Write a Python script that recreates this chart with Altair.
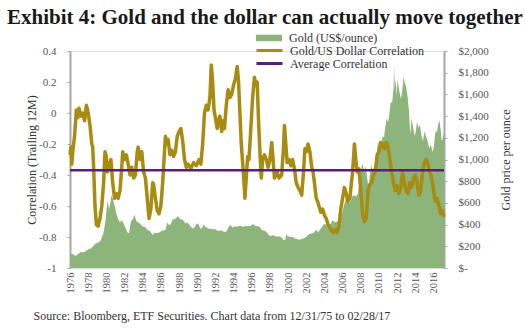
import altair as alt
import pandas as pd

# ---------------- data ----------------
corr_years = [1976.0, 1976.1, 1976.2, 1976.3, 1976.5, 1976.7, 1976.85, 1977.0, 1977.2, 1977.4, 1977.6, 1977.8,
              1978.0, 1978.2, 1978.4, 1978.5, 1978.6, 1978.75, 1978.9, 1979.1, 1979.3, 1979.5, 1979.7, 1979.85,
              1980.0, 1980.1, 1980.2, 1980.4, 1980.5, 1980.7, 1980.9, 1981.1, 1981.3, 1981.5, 1981.7, 1981.8,
              1982.0, 1982.2, 1982.4, 1982.6, 1982.8, 1983.0, 1983.2, 1983.4, 1983.5, 1983.7, 1983.9, 1984.1,
              1984.3, 1984.5, 1984.7, 1984.9, 1985.1, 1985.2, 1985.4, 1985.6, 1985.8, 1986.0, 1986.2, 1986.4,
              1986.5, 1986.6, 1986.8, 1987.0, 1987.2, 1987.4, 1987.6, 1987.8, 1988.0, 1988.2, 1988.4, 1988.6,
              1988.8, 1989.0, 1989.3, 1989.6, 1989.9, 1990.2, 1990.4, 1990.6, 1990.8, 1991.0, 1991.2, 1991.4,
              1991.55, 1991.7, 1991.85, 1992.0, 1992.2, 1992.35, 1992.5, 1992.7, 1992.85, 1993.0, 1993.2, 1993.4,
              1993.6, 1993.8, 1994.0, 1994.2, 1994.4, 1994.55, 1994.7, 1994.85, 1995.0, 1995.15, 1995.25, 1995.4,
              1995.55, 1995.7, 1995.9, 1996.1, 1996.3, 1996.45, 1996.6, 1996.75, 1996.9, 1997.05, 1997.2, 1997.4,
              1997.6, 1997.8, 1998.0, 1998.2, 1998.35, 1998.5, 1998.8, 1999.0, 1999.3, 1999.5, 1999.6, 1999.75,
              1999.9, 2000.1, 2000.3, 2000.5, 2000.7, 2000.9, 2001.1, 2001.3, 2001.5, 2001.7, 2001.85, 2002.0,
              2002.2, 2002.4, 2002.6, 2002.75, 2002.9, 2003.1, 2003.25, 2003.4, 2003.6, 2003.8, 2004.0, 2004.2,
              2004.4, 2004.6, 2004.8, 2005.0, 2005.2, 2005.4, 2005.6, 2005.8, 2006.0, 2006.2, 2006.4, 2006.6,
              2006.8, 2006.95, 2007.1, 2007.3, 2007.45, 2007.6, 2007.8, 2008.0, 2008.2, 2008.4, 2008.6, 2008.8,
              2009.0, 2009.2, 2009.4, 2009.6, 2009.8, 2010.0, 2010.2, 2010.4, 2010.6, 2010.8, 2011.0, 2011.2,
              2011.4, 2011.6, 2011.8, 2012.0, 2012.2, 2012.4, 2012.6, 2012.8, 2013.0, 2013.2, 2013.4, 2013.6,
              2013.8, 2014.0, 2014.2, 2014.4, 2014.6, 2014.8, 2015.0, 2015.2, 2015.4, 2015.6, 2015.8, 2016.0,
              2016.2, 2016.4, 2016.6, 2016.8, 2017.0, 2017.16]
corr_values = [-0.27, -0.22, -0.33, -0.25, -0.15, 0.02, -0.03, 0.03, -0.02, 0.0, -0.05, 0.05,
               0.0, -0.08, -0.2, -0.22, -0.35, -0.6, -0.72, -0.73, -0.68, -0.6, -0.45, -0.25,
               -0.28, -0.38, -0.32, -0.35, -0.3, -0.45, -0.55, -0.52, -0.55, -0.5, -0.35, -0.25,
               -0.3, -0.27, -0.33, -0.4, -0.35, -0.42, -0.4, -0.25, -0.22, -0.3, -0.25, -0.38,
               -0.42, -0.55, -0.68, -0.62, -0.45, -0.46, -0.55, -0.63, -0.65, -0.6, -0.45, -0.25,
               -0.15, -0.2, -0.17, -0.27, -0.24, -0.28, -0.25, -0.15, -0.12, -0.1, -0.18, -0.3,
               -0.35, -0.33, -0.36, -0.32, -0.34, -0.3, -0.33, -0.2, 0.0, 0.05, 0.02, 0.1,
               0.31, 0.2, 0.02, -0.03, -0.1, -0.05, -0.02, -0.12, -0.05, -0.1, 0.05, 0.15,
               0.1, 0.12, 0.18, 0.22, 0.3, 0.2, 0.0, -0.2, -0.32, -0.45, -0.55, -0.42,
               -0.28, -0.3, -0.1, 0.1, 0.23, 0.18, 0.2, -0.05, -0.25, -0.42, -0.3, -0.27,
               -0.3, -0.35, -0.3, -0.19, -0.3, -0.42, -0.38, -0.42, -0.4, -0.22, -0.08, -0.2,
               -0.32, -0.3, -0.34, -0.3, -0.36, -0.45, -0.48, -0.5, -0.53, -0.38, -0.23, -0.25,
               -0.2, -0.25, -0.35, -0.38, -0.45, -0.55, -0.57, -0.6, -0.64, -0.62, -0.66, -0.68,
               -0.72, -0.74, -0.76, -0.77, -0.75, -0.77, -0.73, -0.62, -0.55, -0.48, -0.52, -0.57,
               -0.55, -0.46, -0.38, -0.2, -0.3, -0.38, -0.36, -0.5, -0.65, -0.7, -0.68, -0.5,
               -0.46, -0.45, -0.4, -0.38, -0.27, -0.25, -0.19, -0.2, -0.23, -0.19, -0.22, -0.3,
               -0.38, -0.45, -0.5, -0.47, -0.52, -0.48, -0.38, -0.45, -0.5, -0.52, -0.45, -0.48,
               -0.42, -0.4, -0.45, -0.53, -0.5, -0.38, -0.32, -0.3, -0.33, -0.38, -0.42, -0.5,
               -0.57, -0.55, -0.6, -0.65, -0.63, -0.67]

gold_years = [1976.0, 1976.3, 1976.6, 1976.9, 1977.2, 1977.5, 1977.8, 1978.0, 1978.3, 1978.6, 1978.8,
              1979.0, 1979.3, 1979.5, 1979.7, 1979.9, 1980.05, 1980.15, 1980.3, 1980.45, 1980.55, 1980.7,
              1980.9, 1981.1, 1981.3, 1981.5, 1981.7, 1981.9, 1982.1, 1982.3, 1982.5, 1982.7, 1982.9,
              1983.1, 1983.3, 1983.5, 1983.7, 1983.9, 1984.1, 1984.3, 1984.5, 1984.7, 1984.9, 1985.1,
              1985.3, 1985.5, 1985.7, 1985.9, 1986.1, 1986.3, 1986.5, 1986.7, 1986.9, 1987.1, 1987.3,
              1987.5, 1987.7, 1987.9, 1988.1, 1988.3, 1988.5, 1988.7, 1988.9, 1989.1, 1989.3, 1989.5,
              1989.7, 1989.9, 1990.1, 1990.3, 1990.5, 1990.7, 1990.9, 1991.1, 1991.3, 1991.5, 1991.7,
              1991.9, 1992.1, 1992.3, 1992.5, 1992.7, 1992.9, 1993.1, 1993.3, 1993.5, 1993.7, 1993.9,
              1994.1, 1994.3, 1994.5, 1994.7, 1994.9, 1995.1, 1995.3, 1995.5, 1995.7, 1995.9, 1996.1,
              1996.3, 1996.5, 1996.7, 1996.9, 1997.1, 1997.3, 1997.5, 1997.7, 1997.9, 1998.1, 1998.3,
              1998.5, 1998.7, 1998.9, 1999.1, 1999.3, 1999.5, 1999.7, 1999.8, 1999.95, 2000.1, 2000.3,
              2000.5, 2000.7, 2000.9, 2001.1, 2001.3, 2001.5, 2001.7, 2001.9, 2002.1, 2002.3, 2002.5,
              2002.7, 2002.9, 2003.1, 2003.3, 2003.5, 2003.7, 2003.9, 2004.1, 2004.3, 2004.5, 2004.7,
              2004.9, 2005.1, 2005.3, 2005.5, 2005.7, 2005.9, 2006.1, 2006.3, 2006.4, 2006.6, 2006.8,
              2006.95, 2007.1, 2007.3, 2007.5, 2007.7, 2007.85, 2007.95, 2008.15, 2008.25, 2008.4, 2008.55,
              2008.7, 2008.85, 2009.0, 2009.15, 2009.3, 2009.5, 2009.7, 2009.9, 2010.0, 2010.2, 2010.4,
              2010.55, 2010.7, 2010.85, 2011.0, 2011.15, 2011.3, 2011.45, 2011.6, 2011.67, 2011.75, 2011.85,
              2011.95, 2012.05, 2012.2, 2012.4, 2012.55, 2012.7, 2012.85, 2013.0, 2013.15, 2013.3, 2013.45,
              2013.6, 2013.75, 2013.9, 2014.05, 2014.2, 2014.35, 2014.5, 2014.7, 2014.85, 2015.0, 2015.1,
              2015.3, 2015.55, 2015.7, 2015.9, 2016.05, 2016.2, 2016.4, 2016.55, 2016.65, 2016.8, 2016.9,
              2017.0, 2017.16]
gold_values = [130, 128, 110, 130, 148, 142, 158, 170, 180, 205, 225,
               230, 245, 280, 330, 430, 560, 620, 540, 600, 670, 640,
               580, 500, 450, 420, 440, 410, 370, 330, 320, 430, 450,
               490, 430, 420, 410, 390, 380, 375, 350, 345, 330, 305,
               325, 320, 325, 330, 345, 345, 350, 420, 395, 405, 450,
               450, 460, 480, 450, 450, 435, 410, 420, 400, 380, 365,
               370, 405, 410, 370, 360, 400, 380, 370, 360, 365, 355,
               360, 350, 340, 345, 345, 335, 330, 350, 385, 395, 370,
               385, 380, 385, 390, 385, 378, 390, 385, 385, 387, 405,
               395, 385, 385, 375, 350, 345, 340, 325, 300, 295, 305,
               295, 290, 292, 287, 280, 258, 260, 320, 290, 290, 285,
               285, 275, 268, 265, 260, 268, 275, 278, 295, 310, 315,
               320, 330, 355, 330, 350, 375, 400, 405, 390, 395, 410,
               440, 425, 425, 430, 445, 480, 560, 620, 690, 620, 600,
               630, 665, 670, 660, 690, 780, 830, 960, 940, 880, 940,
               830, 740, 860, 950, 900, 940, 1000, 1180, 1100, 1120, 1220,
               1200, 1300, 1380, 1340, 1420, 1530, 1520, 1650, 1860, 1650, 1740,
               1580, 1740, 1650, 1560, 1620, 1760, 1700, 1670, 1580, 1450, 1230,
               1380, 1300, 1220, 1250, 1350, 1290, 1320, 1210, 1170, 1260, 1230,
               1190, 1100, 1140, 1070, 1120, 1250, 1260, 1340, 1360, 1270, 1170,
               1190, 1250]

avg_corr = [-0.37]
x_ticks = list(range(1976, 2017, 2))
corr_ticks = [-1, -0.8, -0.6, -0.4, -0.2, 0, 0.2, 0.4]
gold_ticks = list(range(0, 2001, 200))

names = ["Gold (US$/ounce)", "Gold/US Dollar Correlation", "Average Correlation"]
GREEN, GOLD, PURPLE = "#8db47a", "#a88c12", "#5a1e78"
FONT = "Liberation Serif"

gold_df = pd.DataFrame({"t": gold_years, "v": gold_values, "s": names[0]})
corr_df = pd.DataFrame({"t": corr_years, "v": corr_values, "s": names[1]})
avg_df = pd.DataFrame({"v": avg_corr, "s": names[2]})

xscale = alt.Scale(domain=[1976, 2017.16], nice=False, zero=False)
xaxis = alt.Axis(values=x_ticks, tickCount=40, format="d", labelAngle=270, grid=False, ticks=False,
                 domain=False, labelOverlap=False, labelFont=FONT, labelFontSize=10.5,
                 labelColor="#555", labelPadding=4,
                 title="Source: Bloomberg, ETF Securities. Chart data from 12/31/75 to 02/28/17",
                 titleFont=FONT, titleFontSize=12, titleFontWeight="normal", titleColor="#333",
                 titleAlign="left", titleAnchor="start", titleX=-37, titleY=51, titleBaseline="alphabetic")

area = alt.Chart(gold_df).mark_area(interpolate="linear", opacity=1).encode(
    x=alt.X("t:Q", scale=xscale, axis=xaxis),
    y=alt.Y("v:Q", scale=alt.Scale(domain=[0, 2000], nice=False),
            axis=alt.Axis(orient="right", values=gold_ticks, tickCount=30, grid=False,
                          domainColor="#a6a6a6", domainWidth=2, tickColor="#a6a6a6", tickSize=3,
                          labelPadding=11, labelOverlap=False,
                          labelExpr="datum.value == 0 ? '$-' : '$' + format(datum.value, ',')",
                          labelFont=FONT, labelFontSize=11, labelColor="#555",
                          title="Gold price per ounce", titleAngle=270, titleFont=FONT,
                          titleFontSize=12, titleFontWeight="normal", titleColor="#333", titlePadding=24)),
    fill=alt.Fill("s:N", scale=alt.Scale(domain=[names[0]], range=[GREEN]),
                  legend=alt.Legend(title=None, orient="none", legendX=193, legendY=-19, padding=0,
                                    symbolType="M-2.6,-0.65L2.6,-0.65L2.6,0.65L-2.6,0.65Z",
                                    symbolSize=100, symbolStrokeWidth=0, labelOffset=14,
                                    labelFont=FONT, labelFontSize=12, labelColor="#333")),
)

cscale = alt.Scale(domain=[-1, 0.4], nice=False)
caxis = alt.Axis(orient="left", values=corr_ticks, tickCount=30, grid=False, domainColor="#a6a6a6",
                 domainWidth=2, tickColor="#a6a6a6", tickSize=3, labelPadding=11, labelOverlap=False,
                 labelExpr="toString(round(datum.value*10)/10)",
                 labelFont=FONT, labelFontSize=11, labelColor="#555",
                 title="Correlation (Trailing 12M)", titleFont=FONT, titleFontSize=12,
                 titleFontWeight="normal", titleColor="#333", titlePadding=0)
stroke = alt.Stroke("s:N", scale=alt.Scale(domain=names[1:], range=[GOLD, PURPLE]),
                    legend=alt.Legend(title=None, orient="none", legendX=193, legendY=-7, padding=0,
                                      symbolType="M-2.6,0L2.6,0", symbolSize=100, symbolStrokeWidth=3,
                                      labelOffset=14, rowPadding=0,
                                      labelFont=FONT, labelFontSize=12, labelColor="#333"))

line = alt.Chart(corr_df).mark_line(strokeWidth=3.5, strokeJoin="round").encode(
    x=alt.X("t:Q", scale=xscale),
    y=alt.Y("v:Q", scale=cscale, axis=caxis),
    stroke=stroke,
)
rule = alt.Chart(avg_df).mark_rule(strokeWidth=2.5).encode(
    y=alt.Y("v:Q", scale=cscale),
    stroke=stroke,
)

chart = alt.layer(area, alt.layer(line, rule)).resolve_scale(y="independent").properties(
    width=374, height=217,
    autosize=alt.AutoSizeParams(type="none"),
    padding={"left": 70, "top": 51, "right": 81, "bottom": 60},
    title=alt.TitleParams(text="Exhibit 4: Gold and the dollar can actually move together",
                          anchor="start", frame="group", font=FONT, fontSize=21, fontWeight="bold",
                          color="#1a1a1a", dx=-63, dy=6, offset=10),
).configure_view(stroke=None).configure(background="white")

chart.save("out.html", embed_options={"renderer": "svg", "actions": False})
